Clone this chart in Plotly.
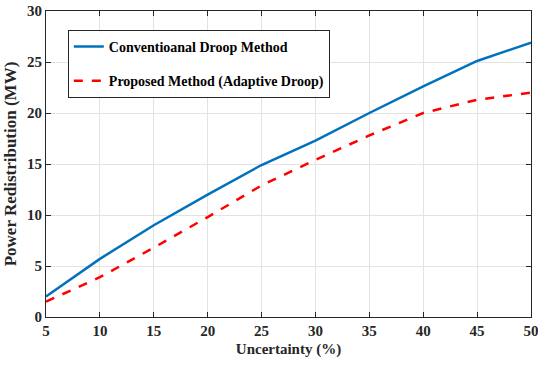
import plotly.graph_objects as go

uncertainty = [5, 10, 15, 20, 25, 30, 35, 40, 45, 50]
conventional = [2.0, 5.7, 9.0, 12.0, 14.9, 17.3, 20.0, 22.6, 25.1, 26.9]
proposed = [1.5, 3.9, 6.8, 9.8, 12.9, 15.4, 17.8, 20.0, 21.3, 22.0]

FONT = "Liberation Serif"

fig = go.Figure()
fig.add_trace(go.Scatter(x=uncertainty, y=conventional, mode="lines",
                         name="Conventioanal Droop Method", legendgroup="a",
                         line=dict(color="#0072BD", width=2.5)))
fig.add_trace(go.Scatter(x=uncertainty, y=proposed, mode="lines",
                         name="Proposed Method (Adaptive Droop)", legendgroup="b",
                         line=dict(color="#FF0000", width=2.5, dash="dash")))

axis_common = dict(showline=True, linecolor="#262626", linewidth=1, mirror="ticks",
                   ticks="inside", ticklen=5, tickcolor="#262626", automargin=False,
                   ticklabeloverflow="allow",
                   showgrid=True, gridcolor="#e3e3e3", gridwidth=1, zeroline=False,
                   tickfont=dict(family=FONT, size=15, color="#262626", weight="bold"))

fig.update_xaxes(range=[5, 50], dtick=5, tick0=5,
                 title=dict(text="Uncertainty (%)", standoff=5,
                            font=dict(family=FONT, size=15, color="#262626", weight="bold")),
                 **axis_common)
fig.update_yaxes(range=[0, 30], dtick=5,
                 title=dict(text="Power Redistribution (MW)", standoff=6,
                            font=dict(family=FONT, size=17, color="#262626", weight="bold")),
                 **axis_common)

fig.update_layout(
    width=538, height=365,
    margin=dict(l=46, r=7, t=11, b=48),
    plot_bgcolor="white", paper_bgcolor="white",
    legend=dict(x=0.045, y=0.938, xanchor="left", yanchor="top",
                bordercolor="#262626", borderwidth=1, bgcolor="white",
                traceorder="grouped", tracegroupgap=13, itemwidth=30,
                font=dict(family=FONT, size=14, color="#000000", weight="bold")),
)

fig.write_html("out.html")
